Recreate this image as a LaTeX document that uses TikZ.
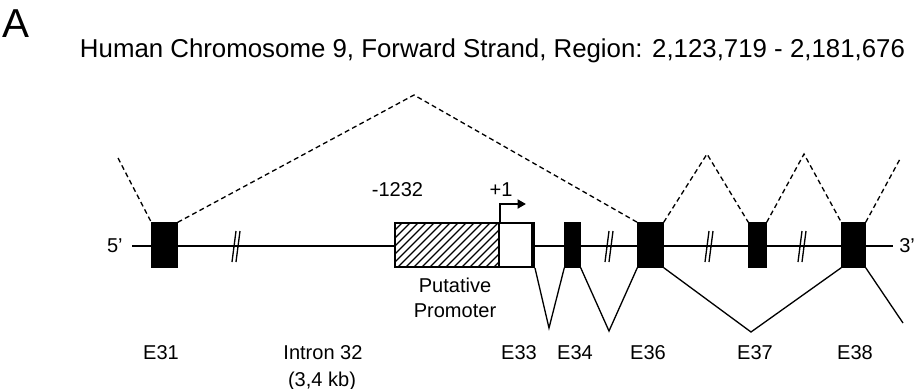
\documentclass[tikz,border=0pt]{standalone}
\usepackage{fontspec}
\setmainfont{Liberation Sans}
\usetikzlibrary{arrows.meta,positioning}
\tikzset{
  >={Triangle[length=1.7mm,width=1.8mm]},
  strand/.style={line width=0.75pt},
  exon/.style={draw,fill=black,line width=0.75pt,inner sep=0pt,
    minimum height=0.88cm,minimum width=#1},
  exon/.default=5mm,
  openbox/.style={draw,fill=white,line width=1.1pt,inner sep=0pt,
    minimum height=0.88cm,minimum width=#1},
  hatched/.style={openbox=#1,path picture={
    \foreach \i in {0,...,18}
      \draw[line width=0.75pt] ([xshift=\i*0.16cm-0.9cm]path picture bounding box.south west) -- ++(0.95cm,0.95cm);
  }},
  splice/.style={line width=0.75pt},
  skip/.style={line width=0.75pt,dash pattern=on 2.8pt off 1.9pt},
  cut/.style={line width=0.75pt},
  lbl/.style={font=\fontsize{11.4}{13}\selectfont,inner sep=0pt},
}

\begin{document}
\begin{tikzpicture}[x=0.02cm,y=-0.02cm]
  \useasboundingbox (0,0) rectangle (917,389);
  \node[anchor=base west,inner sep=0pt,font=\fontsize{23}{25}\selectfont] (panel) at (2,37) {A};
  \node[anchor=base,inner sep=0pt,font=\fontsize{14.7}{17}\selectfont] (title) at (492.5,57)
    {Human Chromosome 9, Forward Strand, Region: 2,123,719 - 2,181,676};
  % strand
  \coordinate (s5) at (132,246); \coordinate (s3) at (893,246);
  \draw[strand] (s5) -- (s3);
  \node[lbl,anchor=east] (five) at (123,246) {5’};
  \node[lbl,anchor=west] (three) at (899,246) {3’};
  \foreach \x in {237,610,710,803}
    \draw[cut] (\x-5,262) -- (\x-1,231) (\x-1,262) -- (\x+3,231);
  % exons
  \node[exon=5mm] (e31) at (164.5,245) {};
  \node[hatched=2.08cm] (prom) at (447,245) {};
  \node[openbox=0.7cm] (e33) at (516.5,245) {};
  \fill (e33.south east) rectangle ([xshift=-0.08cm]e33.north east);
  \node[exon=3mm] (e34) at (572.5,245) {};
  \node[exon=5mm] (e36) at (650.5,245) {};
  \node[exon=3.4mm] (e37) at (757.5,245) {};
  \node[exon=4.6mm] (e38) at (853.5,245) {};
  % transcription start
  \coordinate (tss) at (526,204);
  \draw[->,line width=1.2pt] (prom.north east) |- (tss);
  \node[lbl,anchor=base] (pstart) at (397.5,196) {-1232};
  \node[lbl,anchor=base] (pone) at (501,196) {+1};
  \node[lbl,anchor=base] (put) at (455,292) {Putative};
  \node[lbl,anchor=base] (promtxt) at (455,317) {Promoter};
  % skipped junctions
  \coordinate (d0) at (118,158); \coordinate (d1) at (414,95);
  \coordinate (d2) at (707,154); \coordinate (d3) at (804,154);
  \coordinate (d4) at (900,159);
  \draw[skip] (d0) -- (e31.north west);
  \draw[skip] (e31.north east) -- (d1) -- (e36.north west);
  \draw[skip] (e36.north east) -- (d2) -- (e37.north west);
  \draw[skip] (e37.north east) -- (d3) -- (e38.north west);
  \draw[skip] (e38.north east) -- (d4);
  % normal junctions
  \coordinate (v1) at (549,328); \coordinate (v2) at (609,331);
  \coordinate (v3) at (751,332); \coordinate (v4) at (903,323);
  \draw[splice] (e33.south east) -- (v1) -- (e34.south west);
  \draw[splice] (e34.south east) -- (v2) -- (e36.south west);
  \draw[splice] (e36.south east) -- (v3) -- (e38.south west);
  \draw[splice] (e38.south east) -- (v4);
  % labels
  \foreach \n/\x in {E31/161,E33/519,E34/575,E36/648,E37/755,E38/855}
    \node[lbl,anchor=base] (lab\n) at (\x,359) {\n};
  \node[lbl,anchor=base] (intron) at (323,359) {Intron 32};
  \node[lbl,anchor=base] (ilen) at (322,386) {(3,4 kb)};
\end{tikzpicture}
\end{document}
